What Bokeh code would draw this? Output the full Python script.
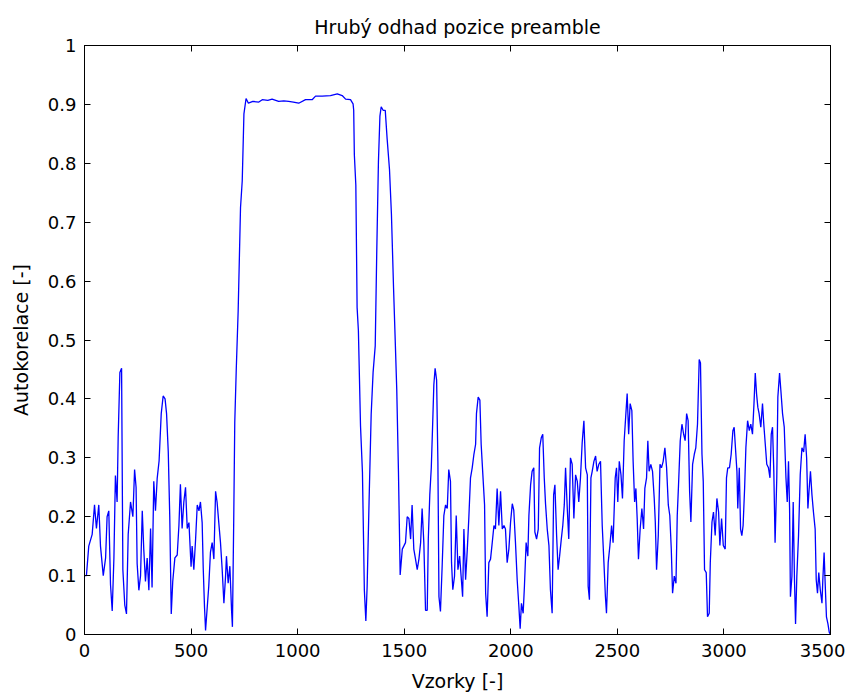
from bokeh.plotting import figure
from bokeh.models import Range1d, LinearAxis, FixedTicker, NumeralTickFormatter, CustomLabelingPolicy
from bokeh.embed import file_html
from bokeh.resources import INLINE

title_text = "Hrubý odhad pozice preamble"
x_label = "Vzorky [-]"
y_label = "Autokorelace [-]"
x_ticks = [0, 500, 1000, 1500, 2000, 2500, 3000, 3500]
y_ticks = [0, 0.1, 0.2, 0.3, 0.4, 0.5, 0.6, 0.7, 0.8, 0.9, 1]

sample_idx = [
    1, 9, 20, 36, 47, 56, 67, 75, 88, 99, 106, 114, 122, 130, 138, 145, 153, 158, 166, 174,
    180, 189, 197, 205, 216, 227, 235, 242, 247, 255, 263, 271, 278, 286, 294, 302, 310, 317,
    325, 333, 341, 350, 360, 369, 378, 385, 393, 400, 407, 414, 424, 435, 443, 450, 458, 466,
    474, 482, 490, 500, 505, 513, 521, 529, 537, 544, 552, 557, 563, 568, 576, 583, 591, 599,
    607, 615, 622, 630, 638, 646, 654, 662, 666, 674, 682, 690, 694,
    700, 705, 712, 721, 732, 740, 748, 758, 769, 790, 818, 834, 860, 880, 911, 935, 958, 980,
    1005, 1037, 1068, 1084, 1115, 1154, 1186, 1209, 1225, 1248, 1260, 1263, 1266, 1273, 1279,
    1285, 1295, 1304, 1313, 1320, 1326, 1335, 1345, 1354, 1364, 1371, 1379, 1386, 1392, 1401,
    1411, 1420, 1431, 1440, 1450, 1458, 1465, 1473, 1481,
    1491, 1498, 1506, 1514, 1522, 1530, 1537, 1545, 1553, 1561, 1569, 1577, 1584, 1592, 1600,
    1608, 1613, 1620, 1627, 1633, 1639, 1645, 1652, 1658, 1663, 1670, 1678, 1686, 1694, 1702,
    1709, 1717, 1722, 1728, 1736, 1744, 1752, 1760, 1767, 1774, 1780, 1788, 1796, 1803, 1811,
    1819, 1827, 1835, 1839, 1847, 1855, 1861, 1869, 1877, 1882, 1889, 1897, 1905, 1913, 1921,
    1928, 1936, 1944, 1952, 1960, 1968, 1975, 1983, 1991, 1999,
    2007, 2014, 2022, 2030, 2038, 2044, 2050, 2058, 2064, 2072, 2080, 2085, 2093, 2100, 2108,
    2113, 2121, 2129, 2135, 2143, 2150, 2157, 2163, 2171, 2179, 2186, 2194, 2201, 2207, 2215,
    2222, 2229, 2237, 2244, 2251, 2257, 2265, 2272, 2280, 2288, 2296, 2304, 2312, 2319, 2327,
    2335, 2343, 2351, 2359, 2363, 2369, 2376, 2382, 2390, 2398, 2405, 2413, 2421, 2429, 2437,
    2444, 2449, 2457, 2465, 2473, 2480,
    2490, 2496, 2502, 2509, 2517, 2524, 2532, 2540, 2546, 2553, 2560, 2568, 2574, 2581, 2587,
    2593, 2599, 2607, 2615, 2623, 2629, 2637, 2643, 2649, 2657, 2665, 2673, 2678, 2684, 2692,
    2700, 2707, 2715, 2723, 2731, 2739, 2746, 2753, 2759, 2767, 2775, 2781, 2787, 2795, 2803,
    2811, 2818, 2825, 2832, 2839, 2845, 2853, 2861, 2868, 2876, 2884, 2890, 2897, 2903, 2909,
    2917, 2923, 2931, 2936, 2944, 2951, 2959, 2967, 2975, 2981, 2989, 2997,
    3006, 3012, 3018, 3026, 3034, 3042, 3048, 3053, 3061, 3065, 3072, 3078, 3084, 3090, 3097,
    3103, 3111, 3119, 3126, 3134, 3141, 3147, 3153, 3159, 3165, 3173, 3181, 3187, 3194, 3201,
    3209, 3216, 3222, 3228, 3234, 3240, 3248, 3253, 3261, 3267, 3275, 3283, 3291, 3297, 3303,
    3308, 3312, 3319, 3325, 3331, 3336, 3342, 3350, 3358, 3366, 3374, 3381, 3388, 3394, 3400,
    3406, 3413, 3420, 3428, 3433, 3439, 3445, 3452, 3460, 3464, 3470, 3475, 3481, 3488, 3494, 3500,
]

autocorr = [
    0.10, 0.10, 0.15, 0.17, 0.22, 0.18, 0.22, 0.15, 0.10, 0.13, 0.20, 0.21, 0.085, 0.04, 0.13,
    0.27, 0.225, 0.335, 0.445, 0.452,
    0.11, 0.05, 0.035, 0.17, 0.225, 0.20, 0.28, 0.25, 0.12, 0.075, 0.10, 0.21, 0.145, 0.09,
    0.13, 0.075, 0.18, 0.08,
    0.26, 0.21, 0.265, 0.295, 0.375, 0.405, 0.40, 0.375, 0.31, 0.20, 0.035, 0.09, 0.13, 0.135,
    0.185, 0.255, 0.18, 0.225,
    0.25, 0.18, 0.19, 0.115, 0.15, 0.11, 0.16, 0.22, 0.21, 0.225, 0.19, 0.113, 0.047, 0.007,
    0.047, 0.082, 0.14, 0.156,
    0.128, 0.243, 0.225, 0.19, 0.156, 0.11, 0.053, 0.10, 0.133, 0.087, 0.116, 0.041, 0.013,
    0.19, 0.36, 0.45, 0.55, 0.725, 0.77, 0.884, 0.91, 0.902, 0.905, 0.904, 0.908, 0.907, 0.909,
    0.905, 0.906, 0.905, 0.904,
    0.902, 0.908, 0.908, 0.914, 0.914, 0.915, 0.918, 0.915, 0.909, 0.908, 0.901, 0.89, 0.815,
    0.763, 0.555,
    0.516, 0.354, 0.276, 0.075, 0.023, 0.081, 0.224, 0.374, 0.445, 0.49, 0.646, 0.802, 0.88,
    0.896, 0.89,
    0.89, 0.841, 0.789, 0.714, 0.588, 0.497, 0.416, 0.276, 0.101,
    0.145, 0.15, 0.156, 0.20, 0.197, 0.162, 0.22, 0.145, 0.128, 0.11, 0.128, 0.156, 0.214,
    0.156, 0.041,
    0.041, 0.162, 0.237, 0.283, 0.352, 0.424, 0.452, 0.432, 0.294, 0.064, 0.039, 0.116, 0.202,
    0.22, 0.214,
    0.28, 0.26, 0.122, 0.076, 0.099, 0.202, 0.11, 0.133, 0.099, 0.064, 0.179, 0.093, 0.145,
    0.197, 0.266,
    0.283, 0.306, 0.323, 0.375, 0.403, 0.398, 0.323, 0.271, 0.22, 0.07, 0.03, 0.122, 0.128,
    0.156, 0.185,
    0.179, 0.248, 0.185, 0.243, 0.179, 0.185, 0.179, 0.122, 0.145, 0.191,
    0.222, 0.211, 0.156, 0.093, 0.047, 0.01, 0.053, 0.036, 0.082, 0.156, 0.133, 0.202, 0.254,
    0.277, 0.283,
    0.174, 0.162, 0.179, 0.317, 0.334, 0.34, 0.266, 0.222, 0.179, 0.151, 0.076, 0.036, 0.237,
    0.254, 0.168,
    0.11, 0.133, 0.162, 0.185, 0.22, 0.283, 0.214, 0.162, 0.30, 0.289, 0.197, 0.271, 0.26,
    0.225, 0.266,
    0.326, 0.363, 0.283, 0.271, 0.082, 0.059, 0.266, 0.277, 0.294, 0.303, 0.277, 0.289, 0.294,
    0.185, 0.122,
    0.064, 0.036, 0.122, 0.151, 0.185, 0.156,
    0.266, 0.283, 0.225, 0.294, 0.271, 0.231, 0.329, 0.375, 0.409, 0.34, 0.392, 0.38, 0.294,
    0.225, 0.248,
    0.197, 0.128, 0.179, 0.214, 0.179, 0.248, 0.266, 0.329, 0.277, 0.289, 0.277, 0.231, 0.191,
    0.11, 0.168,
    0.289, 0.283, 0.294, 0.317, 0.283, 0.22, 0.202, 0.145, 0.07, 0.099, 0.087, 0.202, 0.254,
    0.329, 0.357,
    0.34, 0.329, 0.375, 0.363, 0.243, 0.191, 0.289, 0.306, 0.317, 0.357, 0.467, 0.461, 0.306,
    0.26, 0.11,
    0.105, 0.03, 0.036, 0.122, 0.191, 0.208, 0.168, 0.231, 0.208, 0.151, 0.197, 0.151,
    0.145, 0.266, 0.283, 0.283, 0.306, 0.346, 0.352, 0.323, 0.277, 0.214, 0.283, 0.179, 0.168,
    0.185, 0.248,
    0.317, 0.363, 0.346, 0.357, 0.34, 0.392, 0.444, 0.409, 0.386, 0.375, 0.352, 0.392, 0.357,
    0.323, 0.289,
    0.283, 0.266, 0.34, 0.352, 0.277, 0.156, 0.266, 0.403, 0.444, 0.415, 0.375, 0.352, 0.266,
    0.225, 0.294,
    0.214, 0.064, 0.099, 0.225, 0.093, 0.018, 0.099, 0.168, 0.271, 0.317, 0.31, 0.34, 0.30,
    0.214, 0.248,
    0.277, 0.237, 0.208, 0.179, 0.093, 0.07, 0.105, 0.076, 0.053, 0.093, 0.139, 0.087, 0.03,
    0.018, 0.004, 0.0,
]

FONT = "DejaVu Sans"

p = figure(
    width=845, height=696,
    output_backend="svg", toolbar_location=None,
    x_range=Range1d(0, 3500), y_range=Range1d(0, 1),
    min_border_left=84, min_border_right=15, min_border_top=45, min_border_bottom=62,
    title=title_text,
)
p.background_fill_color = "white"
p.border_fill_color = "white"
p.outline_line_color = "black"
p.outline_line_width = 1
p.xgrid.visible = False
p.ygrid.visible = False

p.title.align = "center"
p.title.text_font = FONT
p.title.text_font_style = "normal"
p.title.text_font_size = "19px"
p.title.text_color = "black"
p.title.standoff = 7

p.line(sample_idx, autocorr, line_color="#0000ff", line_width=1.3)

hide_labels = CustomLabelingPolicy(code="""
for (let i = 0; i < indices.size; i++) { indices.unset(i) }
return indices
""")

def style_axis(ax, ticks, show_labels=True):
    ax.ticker = FixedTicker(ticks=ticks)
    ax.major_tick_in = 6
    ax.major_tick_out = 0
    ax.minor_tick_in = 0
    ax.minor_tick_out = 0
    ax.axis_line_color = "black"
    ax.major_tick_line_color = "black"
    ax.major_label_text_font = FONT
    ax.major_label_text_font_size = "18px"
    ax.major_label_text_color = "black"
    ax.axis_label_text_font = FONT
    ax.axis_label_text_font_size = "19px"
    ax.axis_label_text_font_style = "normal"
    ax.axis_label_text_color = "black"
    if not show_labels:
        ax.major_label_policy = hide_labels
        ax.major_label_standoff = 0
        ax.major_label_text_font_size = "1px"

style_axis(p.xaxis[0], x_ticks)
style_axis(p.yaxis[0], y_ticks)
p.xaxis[0].axis_label = x_label
p.yaxis[0].axis_label = y_label
p.xaxis[0].major_label_standoff = 9
p.yaxis[0].major_label_standoff = 8
p.xaxis[0].axis_label_standoff = 10
p.yaxis[0].axis_label_standoff = 13
p.yaxis[0].formatter = NumeralTickFormatter(format="0.[0]")

top_ax = LinearAxis()
style_axis(top_ax, x_ticks, show_labels=False)
p.add_layout(top_ax, "above")
right_ax = LinearAxis()
style_axis(right_ax, y_ticks, show_labels=False)
p.add_layout(right_ax, "right")

open("out.html", "w").write(file_html(p, INLINE))
